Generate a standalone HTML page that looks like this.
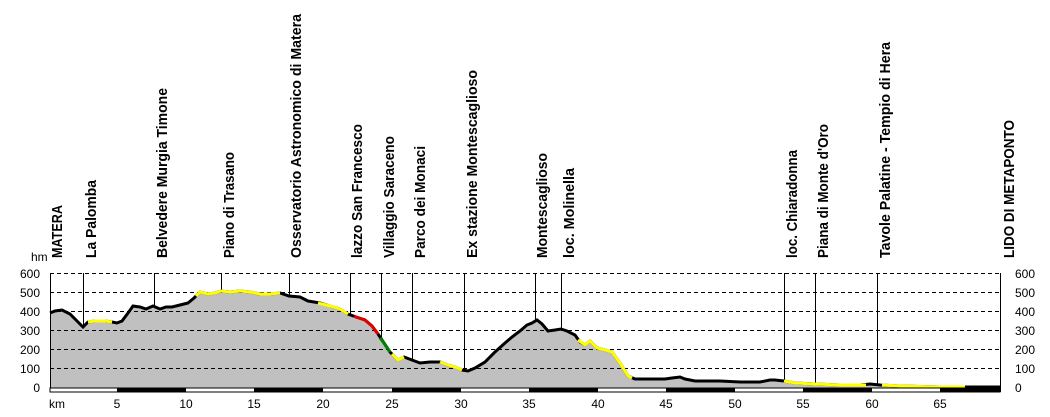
<!DOCTYPE html>
<html><head><style>body{margin:0;background:#fff}svg{display:block}text{font-family:"Liberation Sans",sans-serif;fill:#000}</style></head><body>
<svg width="1050" height="417" viewBox="0 0 1050 417">
<polygon fill="#c0c0c0" points="50,388 50,313 55,311 62,310 70,314 77,321 83,327 88,322 95,321 105,321 112,322 117,323 122,321 128,313 133,306 140,307 146,309 153,306 160,309 166,307 172,307 180,305 188,303 194,298 200,292 208,294 215,293 221,291 230,292 240,291 250,292 260,294 270,294 280,293 289,296 300,297 308,301 314,302 320,303 330,306 340,309 348,314 356,317 365,320 372,326 378,334 384,343 390,352 398,360 404,357 412,360 420,363 430,362 440,362 448,365 455,367 462,370 468,371 475,368 485,362 495,352 505,343 512,337 520,331 527,325 532,323 537,320 542,324 548,331 555,330 561,329 567,331 575,335 580,342 585,345 590,341 597,348 605,350 612,352 620,363 628,376 635,379 645,379 655,379 665,379 672,378 680,377 685,379 695,381 710,381 720,381 740,382 760,382 770,380 775,380 784,381 795,383 815,384 840,385 860,385 870,384 880,385 900,386 940,387 970,387 1000,387 1000,388"/>
<g stroke="#000" stroke-dasharray="4,3" stroke-width="1">
<line x1="50" y1="273.5" x2="1000" y2="273.5"/><line x1="50" y1="292.5" x2="1000" y2="292.5"/><line x1="50" y1="311.5" x2="1000" y2="311.5"/><line x1="50" y1="330.5" x2="1000" y2="330.5"/><line x1="50" y1="349.5" x2="1000" y2="349.5"/><line x1="50" y1="368.5" x2="1000" y2="368.5"/>
</g>
<g stroke="#000" stroke-width="1">
<line x1="50.5" y1="273" x2="50.5" y2="392"/><line x1="1000.5" y1="273" x2="1000.5" y2="392"/>
<line x1="83.5" y1="273" x2="83.5" y2="327"/><line x1="154.5" y1="273" x2="154.5" y2="306"/><line x1="221.5" y1="273" x2="221.5" y2="291"/><line x1="289.5" y1="273" x2="289.5" y2="296"/><line x1="350.5" y1="273" x2="350.5" y2="315"/><line x1="381.5" y1="273" x2="381.5" y2="338"/><line x1="412.5" y1="273" x2="412.5" y2="360"/><line x1="464.5" y1="273" x2="464.5" y2="370"/><line x1="535.5" y1="273" x2="535.5" y2="321"/><line x1="561.5" y1="273" x2="561.5" y2="329"/><line x1="784.5" y1="273" x2="784.5" y2="381"/><line x1="815.5" y1="273" x2="815.5" y2="384"/><line x1="877.5" y1="273" x2="877.5" y2="385"/>
</g>
<polyline fill="none" stroke="#000" stroke-width="3" points="50,313 55,311 62,310 70,314 77,321 83,327 88,322 95,321 105,321 112,322 117,323 122,321 128,313 133,306 140,307 146,309 153,306 160,309 166,307 172,307 180,305 188,303 194,298 200,292 208,294 215,293 221,291 230,292 240,291 250,292 260,294 270,294 280,293 289,296 300,297 308,301 314,302 320,303 330,306 340,309 348,314 356,317 365,320 372,326 378,334 384,343 390,352 398,360 404,357 412,360 420,363 430,362 440,362 448,365 455,367 462,370 468,371 475,368 485,362 495,352 505,343 512,337 520,331 527,325 532,323 537,320 542,324 548,331 555,330 561,329 567,331 575,335 580,342 585,345 590,341 597,348 605,350 612,352 620,363 628,376 635,379 645,379 655,379 665,379 672,378 680,377 685,379 695,381 710,381 720,381 740,382 760,382 770,380 775,380 784,381 795,383 815,384 840,385 860,385 870,384 880,385 900,386 940,387 970,387 1000,387"/>
<g fill="none" stroke-width="3">
<polyline stroke="#ffff00" points="88,322 95,321 105,321 112,322"/>
<polyline stroke="#ffff00" points="196,296 200,292 208,294 215,293 221,291 230,292 240,291 250,292 260,294 270,294 280,293"/>
<polyline stroke="#ffff00" points="318,303 330,306 340,309 348,314"/>
<polyline stroke="#e00000" points="354,316 356,317 365,320 372,326 378,334"/>
<polyline stroke="#008000" points="380,338 384,343 390,352"/>
<polyline stroke="#ffff00" points="392,354 398,360 404,357"/>
<polyline stroke="#ffff00" points="440,362 448,365 455,367 462,370"/>
<polyline stroke="#ffff00" points="578,340 585,345 590,341 597,348 605,350 612,352 620,363 628,376 632,378"/>
<polyline stroke="#ffff00" points="784,381 795,383 815,384 840,385 860,385 866,385"/>
<polyline stroke="#ffff00" points="882,385 900,386 940,387 965,387"/>
</g>
<rect x="50" y="388" width="950" height="4" fill="#fff" stroke="#000" stroke-width="1"/>
<g fill="#000"><rect x="117" y="388" width="69" height="4"/><rect x="254" y="388" width="69" height="4"/><rect x="392" y="388" width="69" height="4"/><rect x="529" y="388" width="69" height="4"/><rect x="666" y="388" width="69" height="4"/><rect x="803" y="388" width="69" height="4"/><rect x="940" y="388" width="60" height="4"/></g>
<g font-size="12">
<text x="31" y="261">hm</text>
<g text-anchor="end"><text x="40" y="278">600</text><text x="40" y="297">500</text><text x="40" y="316">400</text><text x="40" y="335">300</text><text x="40" y="354">200</text><text x="40" y="373">100</text><text x="40" y="392">0</text></g>
<text x="1015" y="278">600</text><text x="1015" y="297">500</text><text x="1015" y="316">400</text><text x="1015" y="335">300</text><text x="1015" y="354">200</text><text x="1015" y="373">100</text><text x="1015" y="392">0</text>
<text x="49" y="408">km</text>
<g text-anchor="middle"><text x="117" y="408">5</text><text x="186" y="408">10</text><text x="254" y="408">15</text><text x="323" y="408">20</text><text x="392" y="408">25</text><text x="461" y="408">30</text><text x="529" y="408">35</text><text x="598" y="408">40</text><text x="666" y="408">45</text><text x="735" y="408">50</text><text x="803" y="408">55</text><text x="872" y="408">60</text><text x="940" y="408">65</text></g>
</g>
<g font-size="15" font-weight="bold">
<text transform="translate(62,258) rotate(-90)" textLength="53" lengthAdjust="spacingAndGlyphs">MATERA</text>
<text transform="translate(96,258) rotate(-90)" textLength="78" lengthAdjust="spacingAndGlyphs">La Palomba</text>
<text transform="translate(167,258) rotate(-90)" textLength="170" lengthAdjust="spacingAndGlyphs">Belvedere Murgia Timone</text>
<text transform="translate(234,258) rotate(-90)" textLength="106" lengthAdjust="spacingAndGlyphs">Piano di Trasano</text>
<text transform="translate(301,258) rotate(-90)" textLength="244" lengthAdjust="spacingAndGlyphs">Osservatorio Astronomico di Matera</text>
<text transform="translate(362,258) rotate(-90)" textLength="134" lengthAdjust="spacingAndGlyphs">lazzo San Francesco</text>
<text transform="translate(394,258) rotate(-90)" textLength="122" lengthAdjust="spacingAndGlyphs">Villaggio Saraceno</text>
<text transform="translate(425,258) rotate(-90)" textLength="112" lengthAdjust="spacingAndGlyphs">Parco dei Monaci</text>
<text transform="translate(477,258) rotate(-90)" textLength="188" lengthAdjust="spacingAndGlyphs">Ex stazione Montescaglioso</text>
<text transform="translate(547,258) rotate(-90)" textLength="105" lengthAdjust="spacingAndGlyphs">Montescaglioso</text>
<text transform="translate(574,258) rotate(-90)" textLength="90" lengthAdjust="spacingAndGlyphs">loc. Molinella</text>
<text transform="translate(797,258) rotate(-90)" textLength="108" lengthAdjust="spacingAndGlyphs">loc. Chiaradonna</text>
<text transform="translate(828,258) rotate(-90)" textLength="134" lengthAdjust="spacingAndGlyphs">Piana di Monte d'Oro</text>
<text transform="translate(890,258) rotate(-90)" textLength="216" lengthAdjust="spacingAndGlyphs">Tavole Palatine - Tempio di Hera</text>
<text transform="translate(1014,258) rotate(-90)" textLength="138" lengthAdjust="spacingAndGlyphs">LIDO DI METAPONTO</text>
</g>
</svg>
</body></html>
